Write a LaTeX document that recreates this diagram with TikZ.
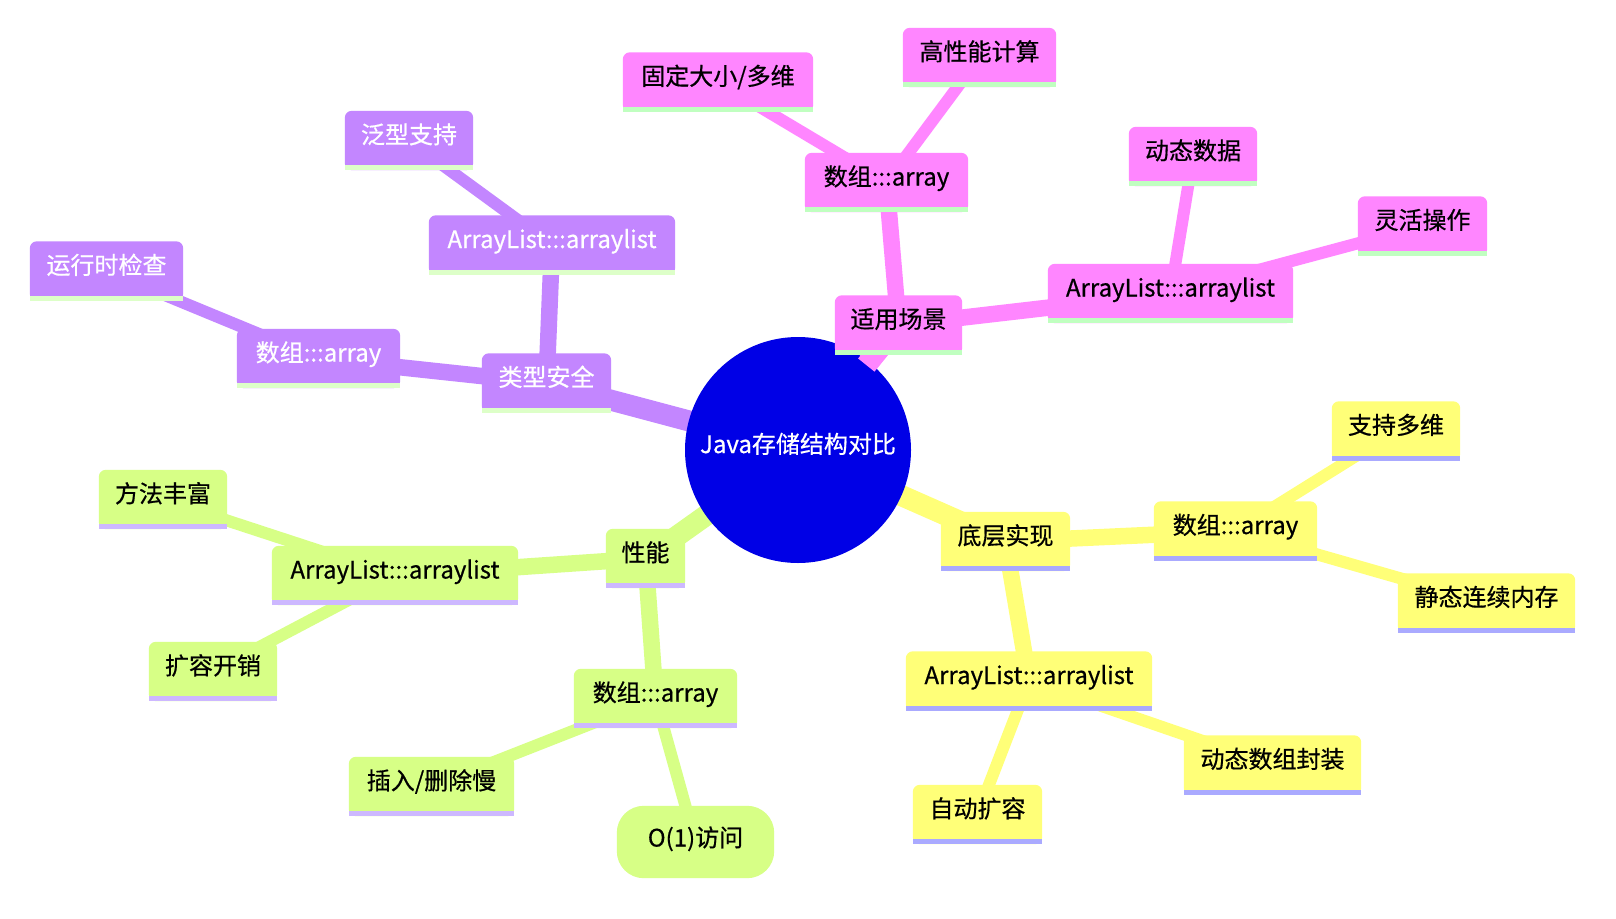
\documentclass[tikz,border=0pt]{standalone}
\usepackage{fontspec}
\setmainfont{Noto Sans CJK SC}[FakeBold=0.6]
\definecolor{rootc}{HTML}{0000E6}
\definecolor{ylw}{HTML}{FFFF78}
\definecolor{ylwbar}{HTML}{AAAAFF}
\definecolor{grn}{HTML}{D7FF86}
\definecolor{grnbar}{HTML}{CDB8FF}
\definecolor{prp}{HTML}{C386FF}
\definecolor{prpbar}{HTML}{DDFFC8}
\definecolor{pnk}{HTML}{FF86FF}
\definecolor{pnkbar}{HTML}{C0FFC0}
\pgfdeclarelayer{bgl}
\pgfdeclarelayer{edges}
\pgfdeclarelayer{rootl}
\pgfdeclarelayer{over}
\pgfdeclarelayer{boxes}
\pgfsetlayers{bgl,edges,rootl,over,boxes,main}
\tikzset{
  mmtext/.style={inner sep=0pt, minimum height=59pt, text height=14pt, text depth=8pt,
    font=\fontsize{24pt}{28pt}\selectfont},
  e0/.style={line width=21pt},
  e1/.style={line width=16.5pt},
  e2/.style={line width=12pt}
}
% #1 name, #2 cx, #3 cy, #4 width, #5 fill, #6 bar, #7 text colour, #8 text
\newcommand\mmbox[8]{%
  \node[mmtext, text=#7, minimum width=#4pt] (#1) at (#2pt,-#3pt) {#8};
  \begin{pgfonlayer}{boxes}
    \fill[#5, rounded corners=7pt] (#1.south west) rectangle (#1.north east);
    \fill[#5] (#1.south west) rectangle (#1.east);
    \fill[#6] (#1.south west) rectangle ([yshift=5pt]#1.south east);
  \end{pgfonlayer}
}
\begin{document}
\begin{tikzpicture}
\path[use as bounding box] (0pt,0pt) rectangle (1616pt,-918pt);
\begin{pgfonlayer}{bgl}
\fill[white] (0pt,0pt) rectangle (1616pt,-918pt);
\end{pgfonlayer}
\begin{pgfonlayer}{rootl}
\node[circle, fill=rootc, minimum size=226pt, inner sep=0pt, text=white,
  text height=14pt, text depth=8pt, font=\fontsize{24pt}{28pt}\selectfont] (root) at (798pt,-450pt) {Java存储结构对比};
\end{pgfonlayer}
% purple section
\mmbox{safe}{546.5}{383}{129}{prp}{prpbar}{white}{类型安全}
\mmbox{safeArr}{318.5}{358.5}{163}{prp}{prpbar}{white}{数组:::array}
\mmbox{safeList}{552}{245}{246}{prp}{prpbar}{white}{ArrayList:::arraylist}
\mmbox{rtcheck}{106.5}{271}{153}{prp}{prpbar}{white}{运行时检查}
\mmbox{generic}{409}{140.5}{128}{prp}{prpbar}{white}{泛型支持}
% pink section
\mmbox{scene}{898.5}{325}{127}{pnk}{pnkbar}{black}{适用场景}
\mmbox{sceneArr}{886.5}{182.5}{163}{pnk}{pnkbar}{black}{数组:::array}
\mmbox{sceneList}{1170.5}{293.5}{245}{pnk}{pnkbar}{black}{ArrayList:::arraylist}
\mmbox{fixed}{718}{82}{190}{pnk}{pnkbar}{black}{固定大小/多维}
\mmbox{hpc}{979.5}{57.5}{153}{pnk}{pnkbar}{black}{高性能计算}
\mmbox{dyn}{1193}{156.5}{128}{pnk}{pnkbar}{black}{动态数据}
\mmbox{flex}{1422.5}{226}{129}{pnk}{pnkbar}{black}{灵活操作}
% yellow section
\mmbox{impl}{1005.5}{541.5}{129}{ylw}{ylwbar}{black}{底层实现}
\mmbox{implArr}{1235.5}{531}{163}{ylw}{ylwbar}{black}{数组:::array}
\mmbox{implList}{1029}{681}{246}{ylw}{ylwbar}{black}{ArrayList:::arraylist}
\mmbox{multi}{1396}{431}{128}{ylw}{ylwbar}{black}{支持多维}
\mmbox{static}{1486.5}{603}{177}{ylw}{ylwbar}{black}{静态连续内存}
\mmbox{wrap}{1272.5}{765}{177}{ylw}{ylwbar}{black}{动态数组封装}
\mmbox{auto}{977.5}{814.5}{129}{ylw}{ylwbar}{black}{自动扩容}
% green section
\mmbox{perf}{645.5}{558.5}{79}{grn}{grnbar}{black}{性能}
\mmbox{perfList}{395}{575.5}{246}{grn}{grnbar}{black}{ArrayList:::arraylist}
\mmbox{perfArr}{655.5}{698.5}{163}{grn}{grnbar}{black}{数组:::array}
\mmbox{rich}{163}{499.5}{128}{grn}{grnbar}{black}{方法丰富}
\mmbox{grow}{213}{671.5}{128}{grn}{grnbar}{black}{扩容开销}
\mmbox{slow}{431.5}{786.5}{165}{grn}{grnbar}{black}{插入/删除慢}
\node[mmtext, minimum width=157pt, minimum height=72pt, text height=15pt, text depth=6pt] (o1) at (695.5pt,-842pt) {O(1)访问};
\begin{pgfonlayer}{boxes}
\fill[grn, rounded corners=27pt] (o1.south west) rectangle (o1.north east);
\end{pgfonlayer}
% edges
\begin{pgfonlayer}{edges}
\draw[e0, prp] (root.center) -- (safe.center);
\draw[e0, ylw] (root.center) -- (impl.center);
\draw[e0, grn] (root.center) -- (perf.center);
\draw[e0, pnk] (root.center) -- (scene.center);
\draw[e1, prp] (safe.center) -- (safeArr.center);
\draw[e1, prp] (safe.center) -- (safeList.center);
\draw[e1, pnk] (scene.center) -- (sceneArr.center);
\draw[e1, pnk] (scene.center) -- (sceneList.center);
\draw[e1, ylw] (impl.center) -- (implArr.center);
\draw[e1, ylw] (impl.center) -- (implList.center);
\draw[e1, grn] (perf.center) -- (perfList.center);
\draw[e1, grn] (perf.center) -- (perfArr.center);
\draw[e2, prp] (safeArr.center) -- (rtcheck.center);
\draw[e2, prp] (safeList.center) -- (generic.center);
\draw[e2, pnk] (sceneArr.center) -- (fixed.center);
\draw[e2, pnk] (sceneArr.center) -- (hpc.center);
\draw[e2, pnk] (sceneList.center) -- (dyn.center);
\draw[e2, pnk] (sceneList.center) -- (flex.center);
\draw[e2, ylw] (implArr.center) -- (multi.center);
\draw[e2, ylw] (implArr.center) -- (static.center);
\draw[e2, ylw] (implList.center) -- (wrap.center);
\draw[e2, ylw] (implList.center) -- (auto.center);
\draw[e2, grn] (perfList.center) -- (rich.center);
\draw[e2, grn] (perfList.center) -- (grow.center);
\draw[e2, grn] (perfArr.center) -- (slow.center);
\draw[e2, grn] (perfArr.center) -- (o1.center);
\end{pgfonlayer}
\begin{pgfonlayer}{over}
\draw[e0, pnk, shorten <=109pt] (root.center) -- (scene.center);
\end{pgfonlayer}
\end{tikzpicture}
\end{document}
